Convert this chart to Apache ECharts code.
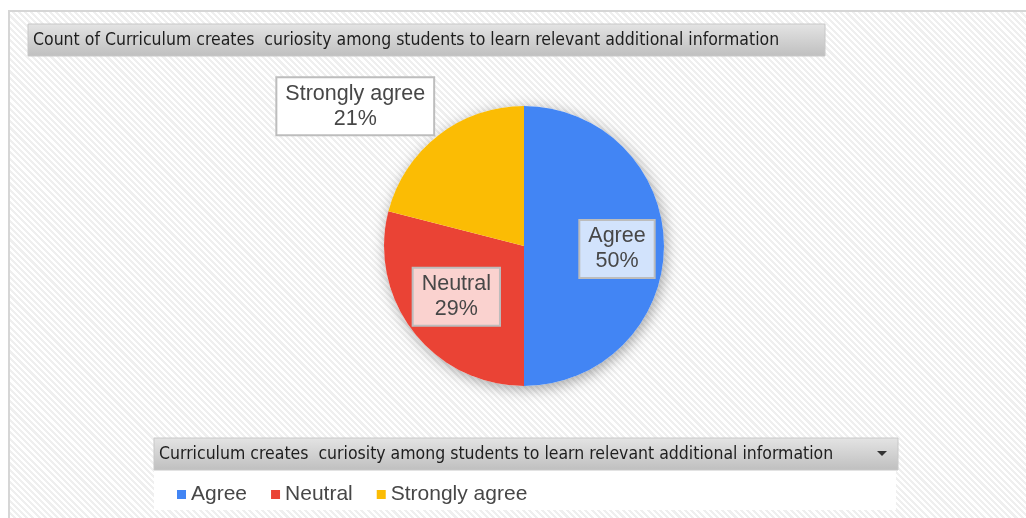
<!DOCTYPE html>
<html lang="en">
<head>
<meta charset="UTF-8">
<title>Curriculum creates curiosity among students</title>
<style>
    html, body { margin: 0; padding: 0; background: #fff; }
    #frame {
        position: absolute; left: 8px; top: 10px; width: 1018px; height: 508px;
        box-sizing: border-box;
        border-left: 2px solid #d6d6d6; border-top: 2px solid #d6d6d6;
        background: repeating-linear-gradient(45deg, #ffffff 0px, #ffffff 2.2px, #efefef 2.2px, #efefef 4.4px);
    }
    #chart { position: absolute; left: 0; top: 0; width: 1026px; height: 518px; }
</style>
</head>
<body>
<div id="frame"></div>
<div id="chart"></div>
<script src="https://cdn.jsdelivr.net/npm/echarts@6/dist/echarts.min.js"></script>
<script>
    // data
    const categories = ['Agree', 'Neutral', 'Strongly agree'];
    const counts = [50, 29, 21];

    const titleText = 'Count of Curriculum creates  curiosity among students to learn relevant additional information';
    const fieldText = 'Curriculum creates  curiosity among students to learn relevant additional information';

    // look
    const sliceColors = ['#4285f4', '#ea4335', '#fbbc04'];
    const labelFills = ['#d2e3fc', '#fad2cf', '#ffffff'];
    const labelOffsets = [[20, 3], [-10, 6], [-124, -82]];
    const narrow = '"Liberation Sans Narrow", "DejaVu Sans Condensed", sans-serif';
    const plain = '"Liberation Sans", Arial, sans-serif';

    const barFill = new echarts.graphic.LinearGradient(0, 0, 0, 1, [
        {offset: 0, color: '#e4e4e4'},
        {offset: 1, color: '#bfbfbf'}
    ]);

    let total = counts.reduce((a, b) => a + b, 0);

    let chart = echarts.init(document.getElementById('chart'));
    chart.setOption({
        animation: false,
        title: [
            {
                text: titleText, left: 33, top: 31, padding: 0,
                textStyle: {fontFamily: narrow, fontSize: 17.5, fontWeight: 'normal', color: '#1e1e1e'}
            },
            {
                text: fieldText, left: 159, top: 445, padding: 0,
                textStyle: {fontFamily: narrow, fontSize: 17.5, fontWeight: 'normal', color: '#1e1e1e'}
            }
        ],
        graphic: [
            {type: 'rect', z: -10, shape: {x: 28, y: 24, width: 797, height: 32},
                style: {fill: barFill, stroke: '#c8c8c8', lineWidth: 1}},
            {type: 'rect', z: -10, shape: {x: 154, y: 470, width: 742, height: 40},
                style: {fill: '#ffffff'}},
            {type: 'rect', z: -10, shape: {x: 154, y: 438, width: 744, height: 32},
                style: {fill: barFill, stroke: '#c8c8c8', lineWidth: 1}},
            {type: 'polygon', z: 5, shape: {points: [[877, 451], [887, 451], [882, 456]]},
                style: {fill: '#333333'}}
        ],
        legend: {
            data: categories,
            left: 172, top: 479,
            icon: 'rect', itemWidth: 9, itemHeight: 9, itemGap: 24,
            selectedMode: false,
            textStyle: {fontFamily: plain, fontSize: 21, color: '#474747'}
        },
        series: [
            {
                // soft shadow under the whole pie
                type: 'pie', silent: true, z: 1,
                center: [524, 246], radius: 140,
                label: {show: false}, labelLine: {show: false},
                data: [{name: 'all', value: total}],
                itemStyle: {color: '#ffffff', shadowBlur: 14, shadowColor: 'rgba(0,0,0,0.35)', shadowOffsetX: 2, shadowOffsetY: 3}
            },
            {
                type: 'pie', silent: true, z: 2,
                center: [524, 246], radius: 140,
                startAngle: 90, clockwise: true,
                labelLine: {show: false},
                label: {
                    show: true, position: 'inside',
                    formatter: p => p.name + '\n' + Math.round(p.percent) + '%',
                    fontFamily: plain, fontSize: 21.5, lineHeight: 25, color: '#474747',
                    borderColor: '#bdbdbd', borderWidth: 2, padding: [3, 8], align: 'center'
                },
                data: categories.map((c, i) => ({
                    name: c, value: counts[i],
                    itemStyle: {color: sliceColors[i]},
                    label: {backgroundColor: labelFills[i], offset: labelOffsets[i]}
                }))
            }
        ]
    });
</script>
</body>
</html>
